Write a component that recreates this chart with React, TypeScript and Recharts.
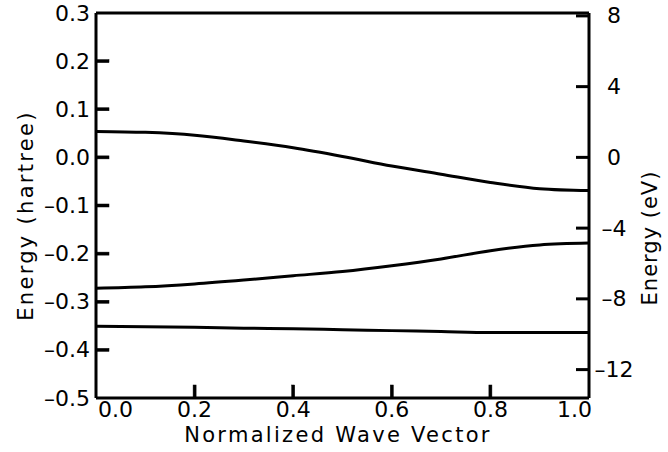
import React from 'react';
import { LineChart, Line, XAxis, YAxis, ReferenceLine } from 'recharts';

// wave vector samples (normalized, 0 → 1)
const waveVector = [0, 0.1, 0.2, 0.3, 0.4, 0.5, 0.6, 0.7, 0.8, 0.9, 1.0];

// band energies in hartree
const upperBand = [0.054, 0.052, 0.046, 0.034, 0.02, 0.002, -0.018, -0.035, -0.052, -0.065, -0.069];
const middleBand = [-0.272, -0.269, -0.263, -0.255, -0.246, -0.237, -0.225, -0.211, -0.194, -0.182, -0.178];
const lowerBand = [-0.351, -0.352, -0.353, -0.355, -0.356, -0.358, -0.36, -0.362, -0.364, -0.364, -0.364];

const xTicks = [0, 0.2, 0.4, 0.6, 0.8, 1.0];
const hartreeTicks = [0.3, 0.2, 0.1, 0, -0.1, -0.2, -0.3, -0.4, -0.5];
const evTicks = [8, 4, 0, -4, -8, -12];

const HARTREE_EV = 27.2114;
const xDomain = [0, 1];
const hartreeDomain = [-0.5, 0.3];
const evDomain = [hartreeDomain[0] * HARTREE_EV, hartreeDomain[1] * HARTREE_EV];

const data = waveVector.map((k, i) => ({
  k,
  upper: upperBand[i],
  middle: middleBand[i],
  lower: lowerBand[i],
}));

const FONT = '"DejaVu Sans", sans-serif';
const INK = '#000';
const TICK_LEN = 13;

const fmt = (v: number, digits: number) =>
  v < 0 ? '\u2013' + Math.abs(v).toFixed(digits) : v.toFixed(digits);

// inward tick marks are drawn alongside each label
const renderLeftTick = (props: any) => {
  const { x, y, payload, index } = props;
  const v = payload.value;
  const edge = v === hartreeDomain[0] || v === hartreeDomain[1];
  const ax = Number(x) + 6;
  return (
    <g key={`l-${index}`}>
      {!edge && <rect x={ax} y={Number(y) - 1.5} width={TICK_LEN} height={3} fill={INK} stroke={INK} strokeWidth={0.5} />}
      <text x={x} y={y} textAnchor="end" dominantBaseline="central" fontFamily={FONT} fontSize={22} fill={INK}>
        {fmt(v, 1)}
      </text>
    </g>
  );
};

const renderRightTick = (props: any) => {
  const { x, y, payload, index } = props;
  return (
    <g key={`r-${index}`}>
      <rect x={Number(x) - TICK_LEN} y={Number(y) - 1.5} width={TICK_LEN} height={3} fill={INK} />
      <text x={x + 25} y={y} textAnchor="middle" dominantBaseline="central" fontFamily={FONT} fontSize={22} fill={INK}>
        {fmt(payload.value, 0)}
      </text>
    </g>
  );
};

const renderBottomTick = (props: any) => {
  const { x, y, payload, index } = props;
  const v = payload.value;
  const edge = v === xDomain[0] || v === xDomain[1];
  let anchor = 'middle';
  let tx = x;
  if (v === 0) {
    anchor = 'start';
    tx = x + 2;
  } else if (v === 1) {
    anchor = 'end';
    tx = x + 3;
  }
  return (
    <g key={`b-${index}`}>
      {!edge && <rect x={Number(x) - 1.5} y={Number(y) - 13} width={3} height={13} fill={INK} stroke={INK} strokeWidth={0.5} />}
      <text x={tx} y={y + 11} textAnchor={anchor} dominantBaseline="central" fontFamily={FONT} fontSize={22} fill={INK}>
        {v.toFixed(1)}
      </text>
    </g>
  );
};

const titleStyle = { fontFamily: FONT, fontSize: 21, fill: INK };

export default function App() {
  return (
    <div style={{ position: 'absolute', left: 0, top: 0, background: '#fff' }}>
      <LineChart width={668} height={452} data={data} margin={{ top: 13, right: 0, bottom: 0, left: 0 }}>
        <XAxis
          dataKey="k"
          type="number"
          domain={xDomain}
          ticks={xTicks}
          height={54}
          tickLine={false}
          tickSize={0}
          tickMargin={0}
          axisLine={{ stroke: INK, strokeWidth: 3 }}
          tick={renderBottomTick}
          interval={0}
          label={{
            content: ({ viewBox }: any) => (
              <text x={338} y={viewBox.y + 37} textAnchor="middle" dominantBaseline="central" letterSpacing={2.3} {...titleStyle}>
                Normalized Wave Vector
              </text>
            ),
          }}
        />
        <YAxis
          yAxisId="hartree"
          type="number"
          domain={hartreeDomain}
          ticks={hartreeTicks}
          width={96}
          tickLine={false}
          tickSize={0}
          tickMargin={6}
          interval={0}
          axisLine={{ stroke: INK, strokeWidth: 3 }}
          tick={renderLeftTick}
          label={{
            content: ({ viewBox }: any) => {
              const cx = viewBox.x + 26;
              const cy = viewBox.y + viewBox.height / 2 + 10;
              return (
                <text x={cx} y={cy} transform={`rotate(-90 ${cx} ${cy})`} textAnchor="middle" dominantBaseline="central" letterSpacing={2.3} {...titleStyle}>
                  Energy (hartree)
                </text>
              );
            },
          }}
        />
        <YAxis
          yAxisId="ev"
          orientation="right"
          type="number"
          domain={evDomain}
          allowDataOverflow
          ticks={evTicks}
          width={79}
          tickLine={false}
          tickSize={0}
          tickMargin={0}
          interval={0}
          axisLine={{ stroke: INK, strokeWidth: 3 }}
          tick={renderRightTick}
          label={{
            content: ({ viewBox }: any) => {
              const cx = viewBox.x + 61;
              const cy = 238;
              return (
                <text x={cx} y={cy} transform={`rotate(-90 ${cx} ${cy})`} textAnchor="middle" dominantBaseline="central" letterSpacing={1} {...titleStyle}>
                  Energy (eV)
                </text>
              );
            },
          }}
        />
        <ReferenceLine yAxisId="hartree" y={hartreeDomain[1]} stroke={INK} strokeWidth={3} />
        <Line yAxisId="hartree" dataKey="upper" type="monotone" stroke={INK} strokeWidth={3} dot={false} isAnimationActive={false} />
        <Line yAxisId="hartree" dataKey="middle" type="monotone" stroke={INK} strokeWidth={3} dot={false} isAnimationActive={false} />
        <Line yAxisId="hartree" dataKey="lower" type="monotone" stroke={INK} strokeWidth={3} dot={false} isAnimationActive={false} />
      </LineChart>
    </div>
  );
}
